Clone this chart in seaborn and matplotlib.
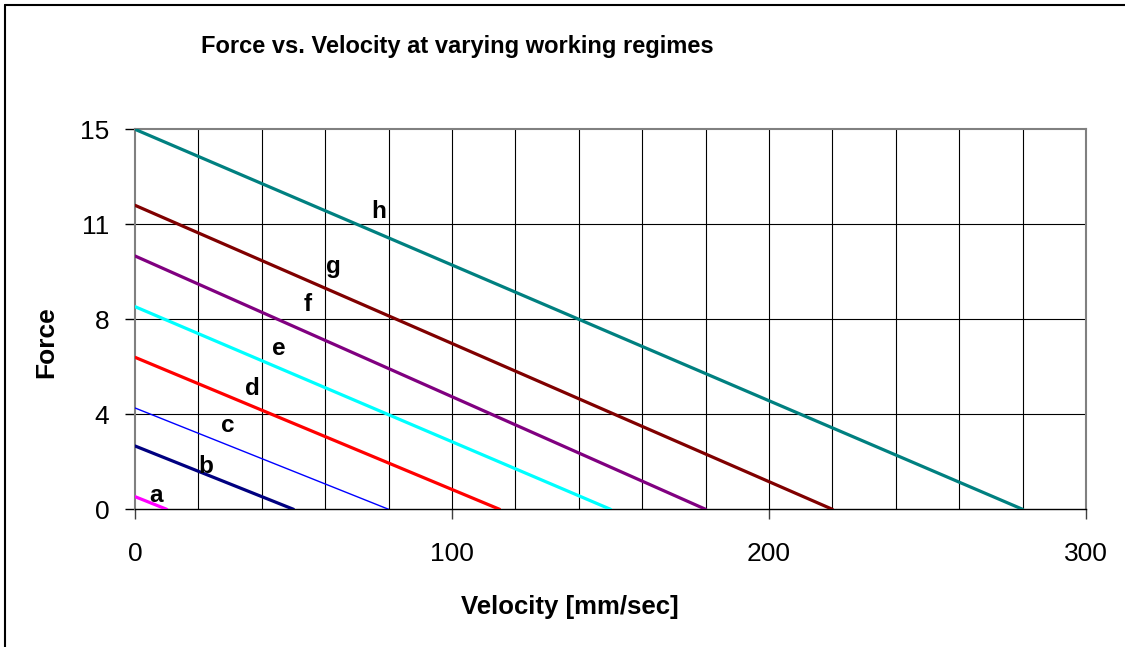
import numpy as np
import pandas as pd
import matplotlib
matplotlib.use("Agg")
import matplotlib.pyplot as plt
from matplotlib.lines import Line2D
import seaborn as sns

# ---- data ----
regimes = ["a", "b", "c", "d", "e", "f", "g", "h"]
force_at_zero = [0.5, 2.5, 4, 6, 8, 10, 12, 15]       # Force at velocity 0
velocity_at_zero = [10, 50, 80, 115, 150, 180, 220, 280]  # velocity where force = 0
colors = ["#FF00FF", "#000080", "#0000FF", "#FF0000", "#00FFFF", "#800080", "#800000", "#008080"]
widths = [2.3, 2.3, 1.0, 2.3, 2.3, 2.3, 2.3, 2.3]
x_ticks = [0, 100, 200, 300]
x_tick_labels = ["0", "100", "200", "300"]
y_tick_labels = ["0", "4", "8", "11", "15"]
# label anchor positions (velocity, force) for regime letters
label_x = [6.6, 22.4, 29.4, 36.9, 45.4, 54.6, 62.5, 77.0]
label_y = [0.56, 1.67, 3.29, 4.75, 6.33, 8.1, 9.57, 11.74]

rows = []
for r, f0, v0 in zip(regimes, force_at_zero, velocity_at_zero):
    rows.append({"regime": r, "velocity": 0, "force": f0})
    rows.append({"regime": r, "velocity": v0, "force": 0})
df = pd.DataFrame(rows)

sns.set_theme(style="white")
plt.rcParams["font.family"] = ["Liberation Sans", "DejaVu Sans"]
plt.rcParams["text.color"] = "black"
plt.rcParams["axes.labelcolor"] = "black"
plt.rcParams["xtick.color"] = "black"
plt.rcParams["ytick.color"] = "black"

W, H = 1125, 647
fig = plt.figure(figsize=(W / 100, H / 100), dpi=100)
ax = fig.add_axes([135 / W, 1 - 509.3 / H, (1086 - 135) / W, (509.3 - 129.3) / H])

# grid
for gx in np.arange(20, 300, 20):
    ax.axvline(gx, color="black", lw=0.8, zorder=0)
y_ticks = np.linspace(0, 15, len(y_tick_labels))
for gy in y_ticks[1:-1]:
    ax.axhline(gy, color="black", lw=0.8, zorder=0)

for r, c, w in zip(regimes, colors, widths):
    sns.lineplot(data=df[df.regime == r], x="velocity", y="force", color=c, lw=w,
                 ax=ax, legend=False, zorder=3)

for r, lx, ly in zip(regimes, label_x, label_y):
    ax.text(lx, ly, r, ha="center", va="center", fontsize=17.5, fontweight="bold",
            color="black", zorder=4)

ax.set_xlim(0, 300)
ax.set_ylim(0, 15)
ax.set_xticks(x_ticks)
ax.set_xticklabels(x_tick_labels)
ax.set_yticks(y_ticks)
ax.set_yticklabels(y_tick_labels)
ax.tick_params(axis="x", direction="out", length=7.5, width=1, color="#404040",
               labelcolor="black", pad=16, labelsize=19)
ax.tick_params(axis="y", direction="out", length=7.5, width=1, color="#000000",
               labelcolor="black", pad=11, labelsize=19)
ax.xaxis.set_ticks_position("bottom")
ax.yaxis.set_ticks_position("left")
for s in ax.spines.values():
    s.set_color("#808080")
    s.set_linewidth(1.5)
ax.spines["bottom"].set_color("#000000")
ax.spines["bottom"].set_linewidth(1.0)
ax.set_xlabel("")
ax.set_ylabel("")

fig.text(457.5 / W, 1 - 53 / H, "Force vs. Velocity at varying working regimes",
         ha="center", va="baseline", fontsize=17, fontweight="bold", color="black")
fig.text(570 / W, 1 - 614 / H, "Velocity [mm/sec]", ha="center", va="baseline",
         fontsize=18.5, fontweight="bold", color="black")
fig.text(46 / W, 1 - 342 / H, "Force", ha="center", va="center", rotation=90,
         fontsize=19, fontweight="bold", color="black")

# outer chart border (left and top visible)
fig.add_artist(Line2D([4.5 / W, 4.5 / W], [0, 1 - 5 / H], transform=fig.transFigure, color="black", lw=1.5))
fig.add_artist(Line2D([4.5 / W, 1], [1 - 5 / H, 1 - 5 / H], transform=fig.transFigure, color="black", lw=1.5))

fig.savefig("out.png", dpi=100)
